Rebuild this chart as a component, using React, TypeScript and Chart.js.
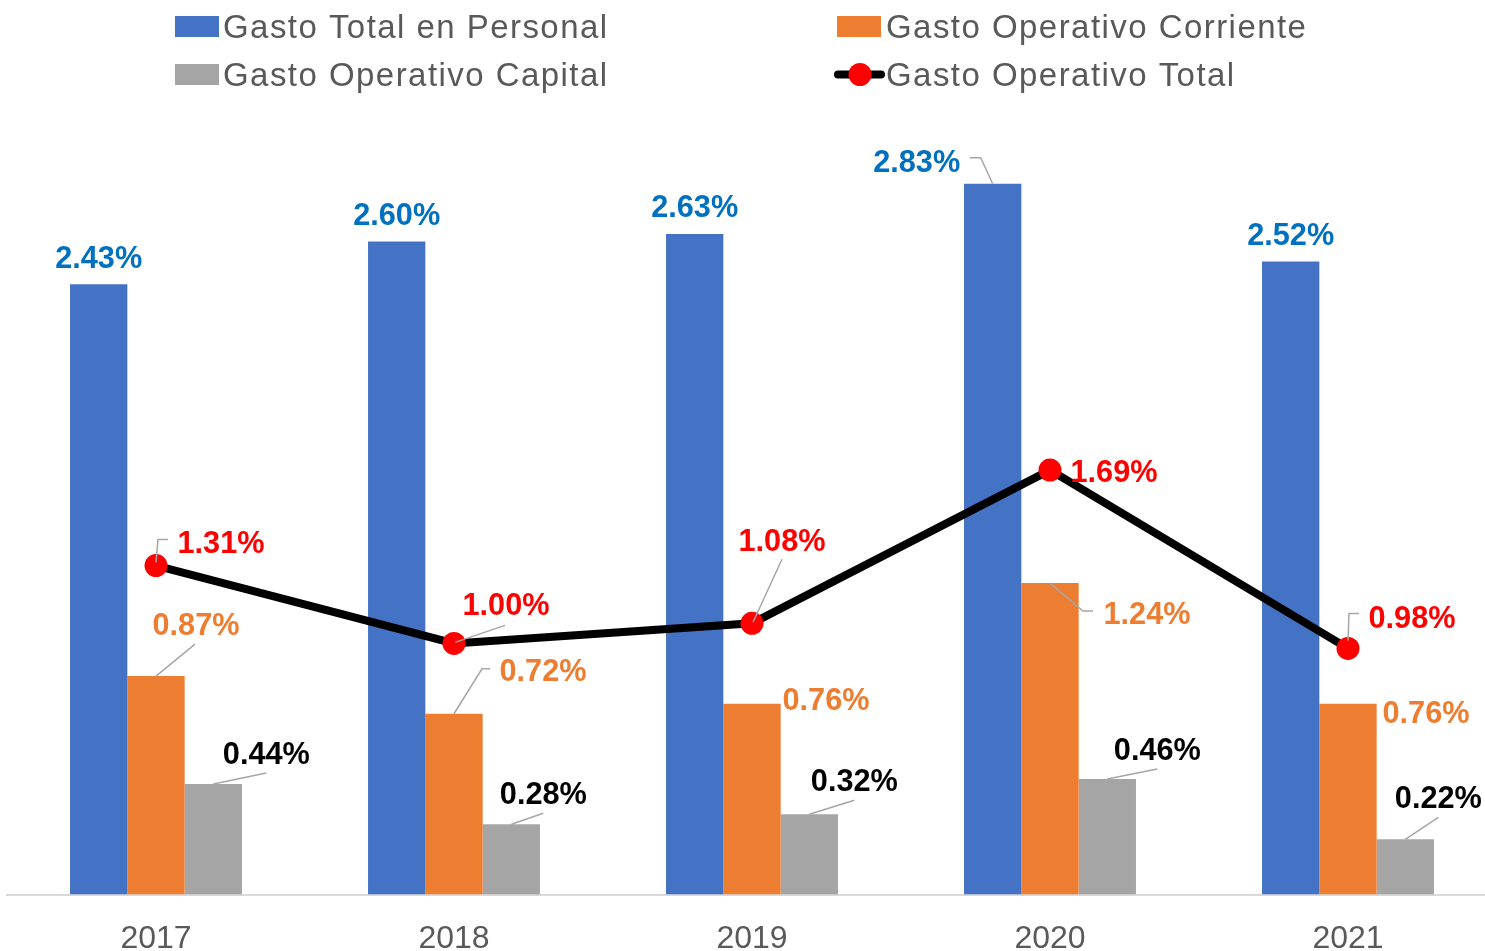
import React, { useEffect, useRef } from "react";
import { Chart, registerables } from "chart.js";

Chart.register(...registerables);

// ---- Data ----
const years = ["2017", "2018", "2019", "2020", "2021"];
const gastoPersonal = [2.43, 2.6, 2.63, 2.83, 2.52];
const gastoCorriente = [0.87, 0.72, 0.76, 1.24, 0.76];
const gastoCapital = [0.44, 0.28, 0.32, 0.46, 0.22];
const gastoTotal = [1.31, 1.0, 1.08, 1.69, 0.98];
const seriesNames = [
  "Gasto Total en Personal",
  "Gasto Operativo Corriente",
  "Gasto Operativo Capital",
  "Gasto Operativo Total",
];

// ---- Styles ----
const barColors = ["#4472C4", "#ED7D31", "#A5A5A5"];
const labelColors = ["#0070C0", "#ED7D31", "#000000", "#FF0000"];
const FONT = '"Liberation Sans", Arial, sans-serif';

type Place = { dx: number; dy: number; leader?: number[][] };

// label placement (offsets relative to the mark anchor), Excel-like manual positions
const placeBlue: Place[] = [
  { dx: 0, dy: -28 },
  { dx: 0, dy: -28 },
  { dx: 0, dy: -28 },
  { dx: -76, dy: -23, leader: [[-23, -26], [-12, -26], [0, 0]] },
  { dx: 0, dy: -28 },
];
const placeOrange: Place[] = [
  { dx: 40, dy: -53, leader: [[39, -32], [0, 0]] },
  { dx: 89, dy: -44, leader: [[36, -45], [28, -45], [0, 0]] },
  { dx: 74, dy: -5 },
  { dx: 97, dy: 29, leader: [[43, 28], [33, 28], [0, 0]] },
  { dx: 78, dy: 8 },
];
const placeGray: Place[] = [
  { dx: 53, dy: -32, leader: [[53, -11], [0, 0]] },
  { dx: 32, dy: -32, leader: [[32, -11], [0, 0]] },
  { dx: 45, dy: -35, leader: [[45, -14], [0, 0]] },
  { dx: 50, dy: -31, leader: [[50, -10], [0, 0]] },
  { dx: 33, dy: -43, leader: [[33, -22], [0, 0]] },
];
const placeRed: Place[] = [
  { dx: 65, dy: -24, leader: [[12, -26], [2, -26], [0, -3]] },
  { dx: 52, dy: -40, leader: [[51, -18], [1, -1]] },
  { dx: 30, dy: -84, leader: [[30, -64], [1, -1]] },
  { dx: 64, dy: 0 },
  { dx: 64, dy: -32, leader: [[11, -35], [1, -35], [0, -8]] },
];
const placements = [placeBlue, placeOrange, placeGray, placeRed];

const labelsPlugin = {
  id: "customLabels",
  afterDatasetsDraw(chart: any) {
    const ctx = chart.ctx as CanvasRenderingContext2D;
    ctx.save();
    // leaders
    chart.data.datasets.forEach((_ds: any, di: number) => {
      const meta = chart.getDatasetMeta(di);
      meta.data.forEach((el: any, i: number) => {
        const p = placements[di][i];
        if (!p || !p.leader) return;
        ctx.beginPath();
        ctx.strokeStyle = "#A6A6A6";
        ctx.lineWidth = 1.5;
        p.leader.forEach((pt, k) => {
          const x = el.x + pt[0];
          const y = el.y + pt[1];
          if (k === 0) ctx.moveTo(x, y);
          else ctx.lineTo(x, y);
        });
        ctx.stroke();
      });
    });
    // texts
    ctx.font = `bold 30.7px ${FONT}`;
    ctx.textAlign = "center";
    ctx.textBaseline = "alphabetic";
    chart.data.datasets.forEach((ds: any, di: number) => {
      const meta = chart.getDatasetMeta(di);
      meta.data.forEach((el: any, i: number) => {
        const p = placements[di][i];
        ctx.fillStyle = labelColors[di];
        ctx.fillText(Number(ds.data[i]).toFixed(2) + "%", el.x + p.dx, el.y + p.dy + 11.5);
      });
    });
    ctx.restore();
  },
  afterDraw(chart: any) {
    const ctx = chart.ctx as CanvasRenderingContext2D;
    ctx.save();
    ctx.font = `33px ${FONT}`;
    (ctx as any).letterSpacing = "1.45px";
    ctx.fillStyle = "#595959";
    ctx.textAlign = "left";
    ctx.textBaseline = "alphabetic";
    const rows = [26.5, 74.5];
    const cols = [175, 837];
    const textX = [223, 886];
    const cells = [
      [0, 0],
      [0, 1],
      [1, 0],
      [1, 1],
    ];
    cells.forEach(([r, c], si) => {
      const cy = rows[r];
      if (si < 3) {
        ctx.fillStyle = barColors[si];
        ctx.fillRect(cols[c], cy - 10.5, 44, 21);
      } else {
        ctx.beginPath();
        ctx.strokeStyle = "#000000";
        ctx.lineWidth = 8;
        ctx.lineCap = "round";
        ctx.moveTo(838, cy);
        ctx.lineTo(881, cy);
        ctx.stroke();
        ctx.beginPath();
        ctx.fillStyle = "#FF0000";
        ctx.arc(860, cy, 11.5, 0, Math.PI * 2);
        ctx.fill();
      }
      ctx.fillStyle = "#595959";
      ctx.fillText(seriesNames[si], textX[c], cy + 11.8);
    });
    ctx.restore();
  },
};

export default function App() {
  const ref = useRef<HTMLCanvasElement>(null);
  useEffect(() => {
    if (!ref.current) return;
    const chart = new Chart(ref.current, {
      type: "bar",
      data: {
        labels: years,
        datasets: [
          {
            label: seriesNames[0],
            data: gastoPersonal,
            backgroundColor: barColors[0],
            borderWidth: 0,
            order: 1,
          },
          {
            label: seriesNames[1],
            data: gastoCorriente,
            backgroundColor: barColors[1],
            borderWidth: 0,
            order: 1,
          },
          {
            label: seriesNames[2],
            data: gastoCapital,
            backgroundColor: barColors[2],
            borderWidth: 0,
            order: 1,
          },
          {
            type: "line",
            label: seriesNames[3],
            data: gastoTotal,
            borderColor: "#000000",
            borderWidth: 8,
            pointRadius: 11.5,
            pointBackgroundColor: "#FF0000",
            pointBorderColor: "#FF0000",
            pointBorderWidth: 0,
            tension: 0,
            order: 0,
          } as any,
        ],
      },
      options: {
        responsive: false,
        animation: false,
        devicePixelRatio: 1,
        layout: { autoPadding: false, padding: { left: 7, right: 3, top: 141, bottom: 0 } } as any,
        datasets: {
          bar: { barPercentage: 1, categoryPercentage: 0.577 },
        } as any,
        plugins: {
          legend: { display: false },
          tooltip: { enabled: false },
        },
        scales: {
          x: {
            grid: { display: false, drawTicks: false },
            border: { display: true, color: "#D9D9D9", width: 2 },
            ticks: {
              color: "#595959",
              font: { family: FONT, size: 32, lineHeight: 1.2 },
              padding: 25,
            },
          },
          y: {
            display: false,
            min: 0,
            max: 3,
          },
        },
      },
      plugins: [labelsPlugin],
    });
    return () => chart.destroy();
  }, []);
  return (
    <div
      style={{
        position: "fixed",
        left: 0,
        top: 0,
        width: 1485,
        height: 951,
        overflow: "hidden",
        background: "#ffffff",
      }}
    >
      <div style={{ width: 1500, height: 983 }}>
        <canvas ref={ref} width={1500} height={983} style={{ display: "block", width: 1500, height: 983 }} />
      </div>
    </div>
  );
}
